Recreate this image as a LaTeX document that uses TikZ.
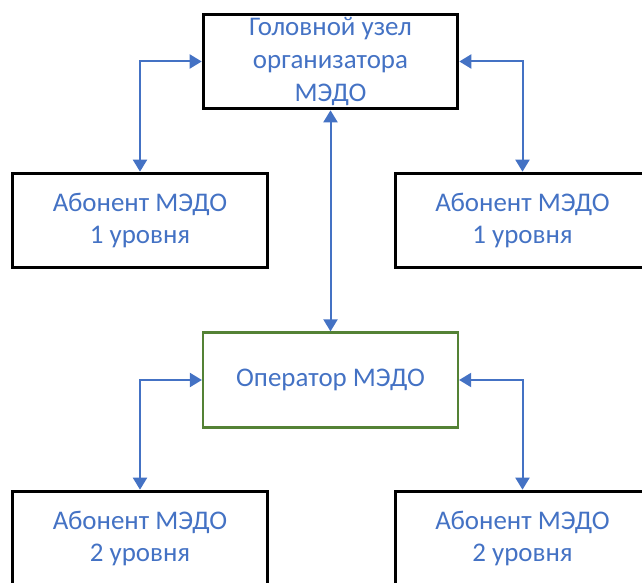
\documentclass[tikz,border=0pt]{standalone}
\usepackage{fontspec}
\setmainfont{Carlito}
\usetikzlibrary{arrows.meta}
\definecolor{medoblue}{HTML}{4472C4}
\definecolor{medogreen}{HTML}{548235}
\tikzset{
    medobox/.style={draw=black,line width=2.2pt,minimum width=191pt,minimum height=71pt,align=center,text=medoblue,font=\fontsize{20.2}{24.4}\selectfont,inner sep=0pt},
    operbox/.style={medobox,draw=medogreen,line width=1.9pt},
    medolink/.style={draw=medoblue,line width=1.5pt,{Triangle[length=9pt,width=10.5pt]}-{Triangle[length=9pt,width=10.5pt]}}
}
\begin{document}
\begin{tikzpicture}[x=0.75pt,y=0.75pt]
    \useasboundingbox (0,0) rectangle (642,582);
    \node[medobox] (head) at (330.5,520.5) {Головной узел\\организатора\\МЭДО};
    \node[medobox] (abon1l) at (140,361.5) {Абонент МЭДО\\1 уровня};
    \node[medobox] (abon1r) at (522.5,361.5) {Абонент МЭДО\\1 уровня};
    \node[operbox] (oper) at (330.5,202) {Оператор МЭДО};
    \node[medobox] (abon2l) at (140,43.5) {Абонент МЭДО\\2 уровня};
    \node[medobox] (abon2r) at (522.5,43.5) {Абонент МЭДО\\2 уровня};
    \draw[medolink] (head.west) -| (abon1l.north);
    \draw[medolink] (head.east) -| (abon1r.north);
    \draw[medolink] (head.south) -- (oper.north);
    \draw[medolink] (oper.west) -| (abon2l.north);
    \draw[medolink] (oper.east) -| (abon2r.north);
\end{tikzpicture}
\end{document}
